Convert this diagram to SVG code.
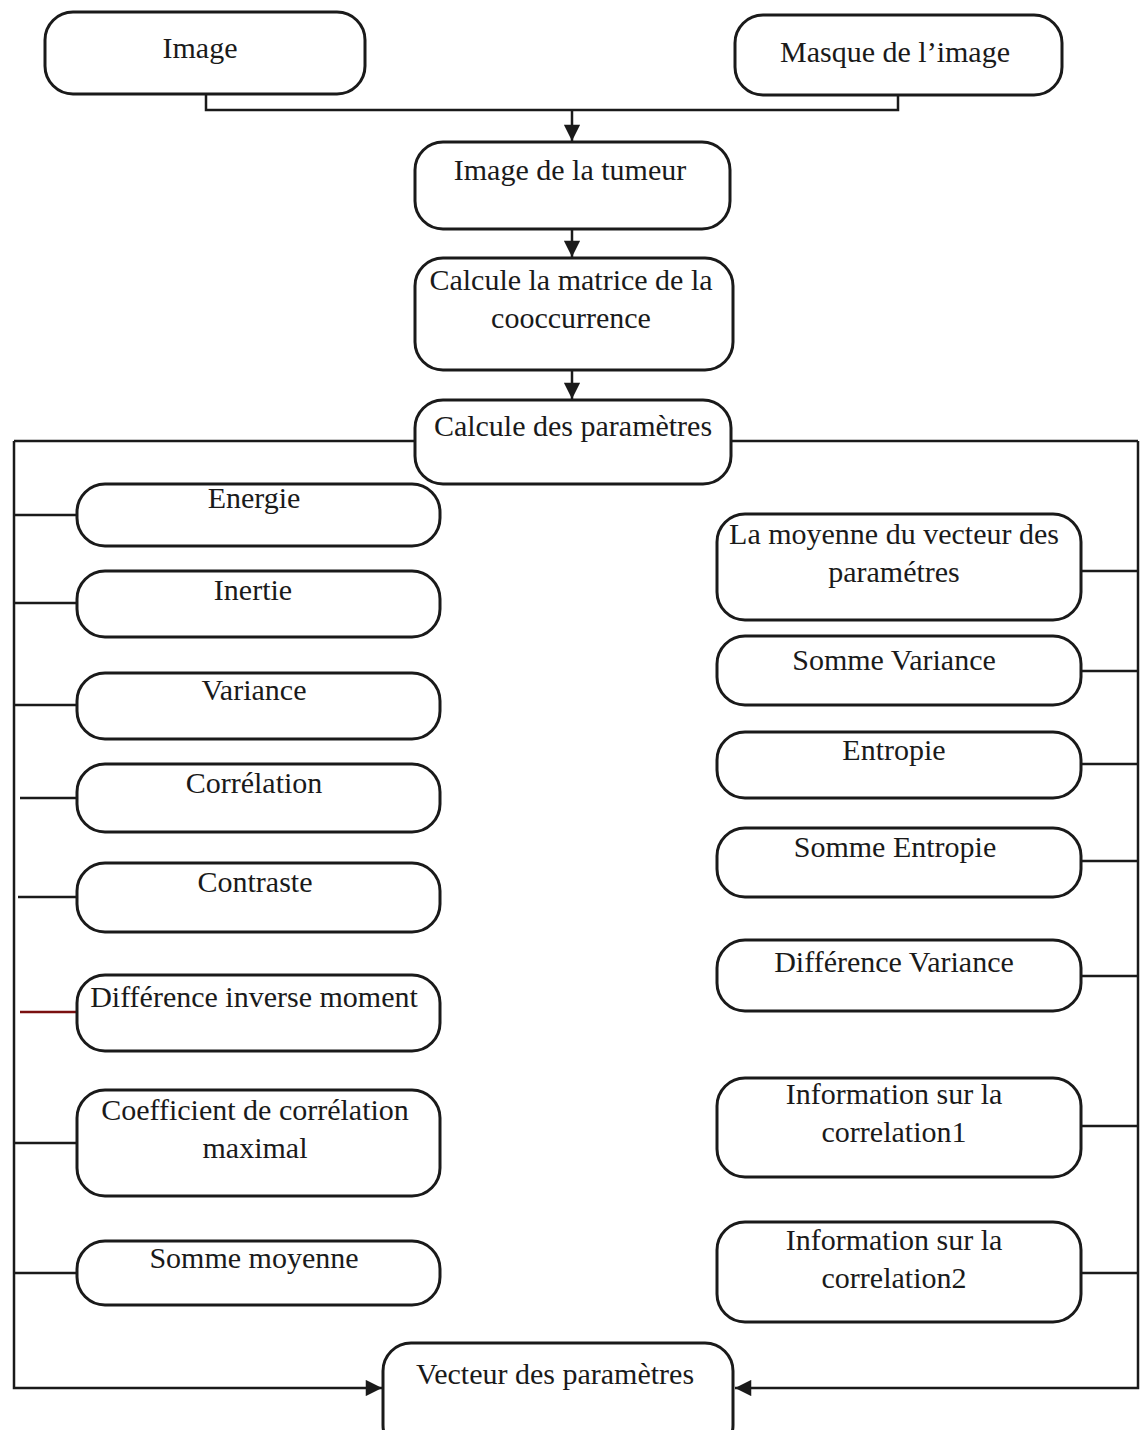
<svg xmlns="http://www.w3.org/2000/svg" width="1140" height="1430" viewBox="0 0 1140 1430">
<defs>
<style>
.box{fill:#fff;stroke:#1a1a1a;stroke-width:3}
.ln{fill:none;stroke:#1a1a1a;stroke-width:2.5}
.red{stroke:#7a1010}
.t{font-family:'Liberation Serif','DejaVu Serif',serif;font-size:30px;fill:#1a1a1a;text-anchor:middle}
</style>
<marker id="ah" viewBox="0 0 10 10" refX="10" refY="5" markerWidth="7" markerHeight="6.5" markerUnits="strokeWidth" orient="auto">
<path d="M0,0 L10,5 L0,10 z" fill="#1a1a1a"/>
</marker>
</defs>
<rect width="1140" height="1430" fill="#fff"/>
<g id="connectors">
<polyline class="ln" points="206,94 206,110 898,110 898,95"/>
<line class="ln" x1="572" y1="110" x2="572" y2="141" marker-end="url(#ah)"/>
<line class="ln" x1="572" y1="229" x2="572" y2="257" marker-end="url(#ah)"/>
<line class="ln" x1="572" y1="370" x2="572" y2="399" marker-end="url(#ah)"/>
<line class="ln" x1="415" y1="441" x2="14" y2="441"/>
<line class="ln" x1="731" y1="441" x2="1138" y2="441"/>
<polyline class="ln" points="14,441 14,1388 382,1388" marker-end="url(#ah)"/>
<polyline class="ln" points="1138,441 1138,1388 735,1388" marker-end="url(#ah)"/>
<line class="ln" x1="14" y1="515" x2="78" y2="515"/>
<line class="ln" x1="14" y1="603" x2="78" y2="603"/>
<line class="ln" x1="14" y1="705" x2="78" y2="705"/>
<line class="ln" x1="20" y1="798" x2="78" y2="798"/>
<line class="ln" x1="18" y1="897" x2="78" y2="897"/>
<line class="ln red" x1="20" y1="1012" x2="78" y2="1012"/>
<line class="ln" x1="14" y1="1143" x2="78" y2="1143"/>
<line class="ln" x1="14" y1="1273" x2="78" y2="1273"/>
<line class="ln" x1="1081" y1="571" x2="1138" y2="571"/>
<line class="ln" x1="1081" y1="671" x2="1138" y2="671"/>
<line class="ln" x1="1081" y1="764" x2="1138" y2="764"/>
<line class="ln" x1="1081" y1="861" x2="1138" y2="861"/>
<line class="ln" x1="1081" y1="976" x2="1138" y2="976"/>
<line class="ln" x1="1081" y1="1126" x2="1138" y2="1126"/>
<line class="ln" x1="1081" y1="1273" x2="1138" y2="1273"/>
</g>
<g class="t" font-family="Liberation Serif, DejaVu Serif, serif">
<g id="n-image"><rect class="box" x="45" y="12" width="320" height="82" rx="28"/><text x="200" y="58">Image</text></g>
<g id="n-masque"><rect class="box" x="735" y="15" width="327" height="80" rx="28"/><text x="895" y="62">Masque de l’image</text></g>
<g id="n-tumeur"><rect class="box" x="415" y="142" width="315" height="87" rx="28"/><text x="570" y="180">Image de la tumeur</text></g>
<g id="n-matrice"><rect class="box" x="415" y="258" width="318" height="112" rx="28"/><text x="571" y="290">Calcule la matrice de la</text><text x="571" y="328">cooccurrence</text></g>
<g id="n-calcule"><rect class="box" x="415" y="400" width="316" height="84" rx="28"/><text x="573" y="436">Calcule des paramètres</text></g>
<g id="n-energie"><rect class="box" x="77" y="484" width="363" height="62" rx="28"/><text x="254" y="508">Energie</text></g>
<g id="n-inertie"><rect class="box" x="77" y="571" width="363" height="66" rx="28"/><text x="253" y="600">Inertie</text></g>
<g id="n-variance"><rect class="box" x="77" y="673" width="363" height="66" rx="28"/><text x="254" y="700">Variance</text></g>
<g id="n-correlation"><rect class="box" x="77" y="764" width="363" height="68" rx="28"/><text x="254" y="793">Corrélation</text></g>
<g id="n-contraste"><rect class="box" x="77" y="863" width="363" height="69" rx="28"/><text x="255" y="892">Contraste</text></g>
<g id="n-dim"><rect class="box" x="77" y="975" width="363" height="76" rx="28"/><text x="254" y="1007">Différence inverse moment</text></g>
<g id="n-coef"><rect class="box" x="77" y="1090" width="363" height="106" rx="28"/><text x="255" y="1120">Coefficient de corrélation</text><text x="255" y="1158">maximal</text></g>
<g id="n-sommemoy"><rect class="box" x="77" y="1241" width="363" height="64" rx="28"/><text x="254" y="1268">Somme moyenne</text></g>
<g id="n-moyenne"><rect class="box" x="717" y="514" width="364" height="106" rx="28"/><text x="894" y="544">La moyenne du vecteur des</text><text x="894" y="582">paramétres</text></g>
<g id="n-sommevar"><rect class="box" x="717" y="636" width="364" height="69" rx="28"/><text x="894" y="670">Somme Variance</text></g>
<g id="n-entropie"><rect class="box" x="717" y="732" width="364" height="66" rx="28"/><text x="894" y="760">Entropie</text></g>
<g id="n-sommeent"><rect class="box" x="717" y="828" width="364" height="69" rx="28"/><text x="895" y="857">Somme Entropie</text></g>
<g id="n-diffvar"><rect class="box" x="717" y="940" width="364" height="71" rx="28"/><text x="894" y="972">Différence Variance</text></g>
<g id="n-info1"><rect class="box" x="717" y="1078" width="364" height="99" rx="28"/><text x="894" y="1104">Information sur la</text><text x="894" y="1142">correlation1</text></g>
<g id="n-info2"><rect class="box" x="717" y="1222" width="364" height="100" rx="28"/><text x="894" y="1250">Information sur la</text><text x="894" y="1288">correlation2</text></g>
<g id="n-vecteur"><rect class="box" x="383" y="1343" width="350" height="110" rx="28"/><text x="555" y="1384">Vecteur des paramètres</text></g>
</g>
</svg>
